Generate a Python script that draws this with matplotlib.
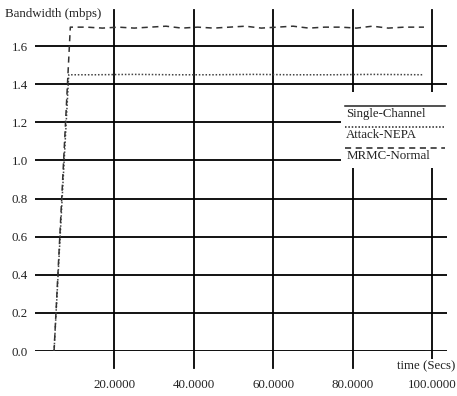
import matplotlib.pyplot as plt

plt.rcParams['font.family'] = ['Liberation Serif', 'DejaVu Serif']

# bandwidth traces (time in secs, bandwidth in mbps)
mrmc_time = [4.8, 8.9, 13, 17, 21, 25, 29, 33, 37, 41, 45, 49, 53, 57, 61, 65, 69, 73, 77, 81, 85, 89, 93, 98]
mrmc_bw = [0.0, 1.70, 1.70, 1.695, 1.70, 1.695, 1.70, 1.705, 1.695, 1.70, 1.695, 1.70, 1.705, 1.695, 1.70,
           1.705, 1.695, 1.70, 1.70, 1.695, 1.705, 1.695, 1.70, 1.70]
nepa_time = [4.8, 8.5, 15, 25, 35, 45, 55, 65, 75, 85, 98]
nepa_bw = [0.0, 1.45, 1.45, 1.452, 1.45, 1.45, 1.452, 1.45, 1.45, 1.452, 1.45]
single_time = [4.8, 98]
single_bw = [0.0, 0.0]

x_ticks = [20, 40, 60, 80, 100]
x_labels = ['20.0000', '40.0000', '60.0000', '80.0000', '100.0000']
y_ticks = [0.0, 0.2, 0.4, 0.6, 0.8, 1.0, 1.2, 1.4, 1.6]

FS = 9.3

fig = plt.figure(figsize=(4.57, 3.96), dpi=100)
ax = fig.add_axes([35 / 457, 45 / 396, 412 / 457, 341 / 396])
ax.set_xlim(0, 103.8)
ax.set_ylim(0, 1.79)

for s in ax.spines.values():
    s.set_visible(False)

# grid drawn as plain lines, verticals hang below the axis like ticks
for y in y_ticks:
    ax.axhline(y, color='black', lw=1.3, zorder=1)
for x in x_ticks:
    ax.plot([x, x], [-0.09, 1.79], color='black', lw=1.3, clip_on=False, zorder=1)

ax.set_xticks(x_ticks)
ax.set_xticklabels(x_labels)
ax.set_yticks(y_ticks)
ax.set_yticklabels(['%.1f' % y for y in y_ticks])
ax.tick_params(axis='x', length=0, pad=20, labelsize=FS, labelcolor='#222222')
ax.tick_params(axis='y', length=0, pad=5, labelsize=FS, labelcolor='#222222')

ax.plot(single_time, single_bw, color='black', lw=1.0, label='Single-Channel', zorder=2)
ax.plot(nepa_time, nepa_bw, color='#444444', lw=1.1, ls=(0, (1, 1.2)), label='Attack-NEPA', zorder=2)
ax.plot(mrmc_time, mrmc_bw, color='#333333', lw=1.1, ls=(0, (4, 3)), label='MRMC-Normal', zorder=2)

# legend box: sample line above each name
ax.add_patch(plt.Rectangle((77.2, 0.96), 26.6, 0.40, facecolor='white', edgecolor='none', zorder=3))
legend_rows = [('Single-Channel', '-'), ('Attack-NEPA', (0, (1, 1.2))), ('MRMC-Normal', (0, (4, 3)))]
leg_y = [1.285, 1.175, 1.065]
for (name, ls), y in zip(legend_rows, leg_y):
    ax.plot([78.0, 103.3], [y, y], color='#222222', lw=1.1, ls=ls, zorder=4)
    ax.text(78.4, y - 0.01, name, fontsize=FS, va='top', ha='left', color='#222222', zorder=4)

fig.text(5 / 457, 1 - 14 / 396, 'Bandwidth (mbps)', fontsize=FS, va='center', ha='left', color='#222222')
fig.text(455 / 457, 1 - 366 / 396, 'time (Secs)', fontsize=FS, va='center', ha='right', color='#222222',
         bbox=dict(facecolor='white', edgecolor='none', pad=0.5), zorder=5)

fig.savefig('out.png', dpi=100)
